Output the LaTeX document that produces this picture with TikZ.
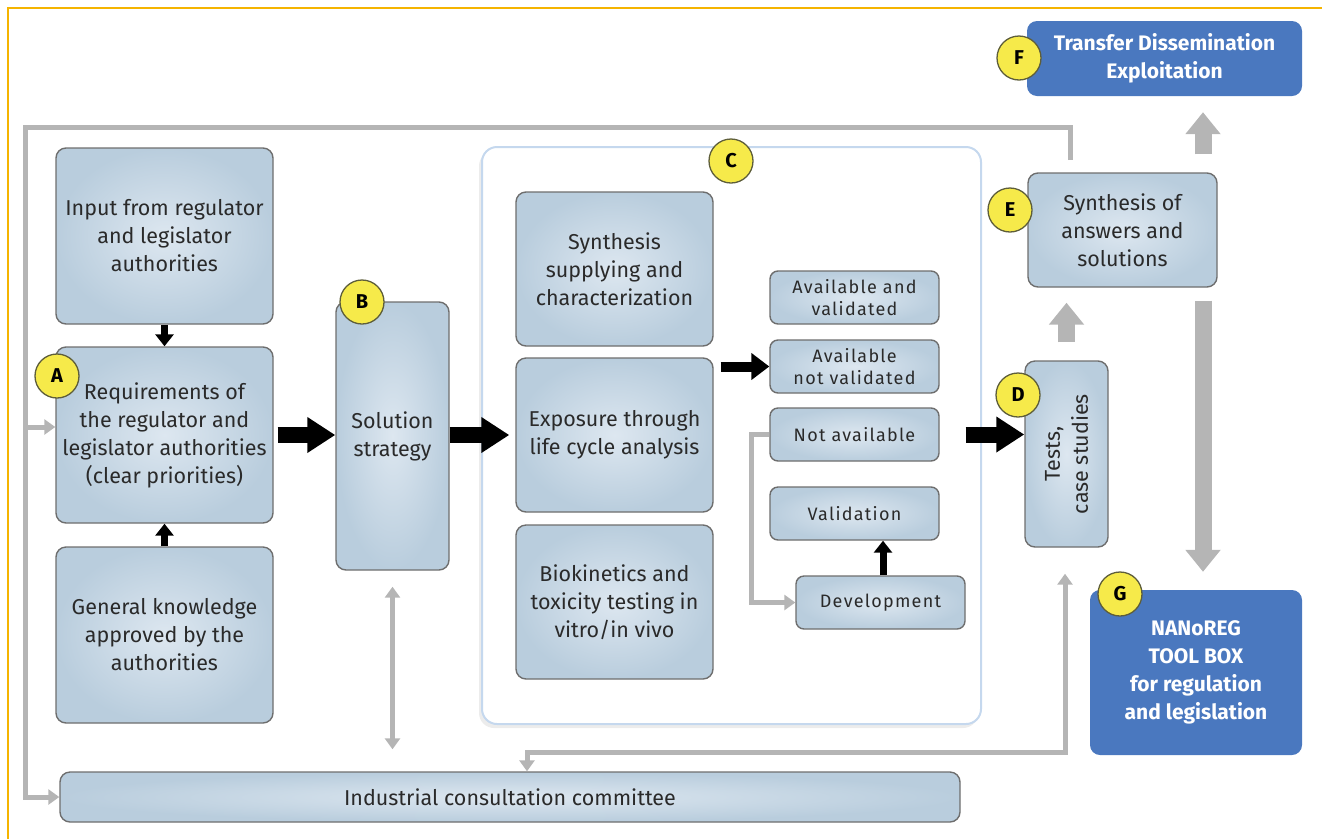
\documentclass[tikz,border=0pt]{standalone}
\usepackage{fontspec}
\setmainfont{Fira Sans}
\newfontfamily\spacedfont[LetterSpace=7]{Fira Sans}
\usetikzlibrary{arrows.meta,shadows}
\definecolor{boxin}{HTML}{DDE7F0}
\definecolor{boxout}{HTML}{B9CDDD}
\definecolor{boxline}{HTML}{6E6E6E}
\definecolor{nblue}{HTML}{4A78BF}
\definecolor{lblfill}{HTML}{F6EA4A}
\definecolor{lblline}{HTML}{5E5E3A}
\definecolor{gline}{HTML}{B5B5B5}
\definecolor{frame}{HTML}{F5B400}
\definecolor{cborder}{HTML}{C5D8EE}
\definecolor{txt}{HTML}{2A2A2A}
\begin{document}
\begin{tikzpicture}[x=1pt,y=-1pt,
  box/.style={draw=boxline, line width=1.4pt, rounded corners=10pt, inner color=boxin, outer color=boxout,
    align=center, font=\fontsize{21.5}{28}\selectfont, text=txt, inner sep=2pt},
  smallbox/.style={box, rounded corners=8pt, font=\spacedfont\fontsize{18}{22}\selectfont, minimum width=169pt, minimum height=53pt},
  bluebox/.style={fill=nblue, rounded corners=10pt, text=white, font=\bfseries\fontsize{21}{28}\selectfont, align=center, inner sep=2pt},
  lbl/.style={circle, draw=lblline, line width=1.3pt, fill=lblfill, minimum size=44pt, inner sep=0pt, text=black, font=\bfseries\fontsize{20}{20}\selectfont},
  blkbig/.style={line width=16pt, draw=black, -{Triangle[length=28pt,width=34pt]}},
  blksmall/.style={line width=7pt, draw=black, -{Triangle[length=12pt,width=18pt]}},
  gline/.style={line width=5pt, draw=gline},
  gtip/.style={-{Triangle[length=11pt,width=15pt]}},
  gblock/.style={line width=17pt, draw=gline, -{Triangle[length=22pt,width=34pt]}}
]
\useasboundingbox (0,0) rectangle (1322,839);
% frame lines
\draw[frame, line width=1.5pt] (8,839) -- (8,8) -- (1322,8);

% container C
\node[draw=cborder, line width=2pt, rounded corners=15pt, fill=white,
  drop shadow={shadow xshift=-3pt, shadow yshift=-4pt, opacity=0.15, fill=gray},
  minimum width=499pt, minimum height=577pt] (C) at (731.5,435.5) {};

% boxes
\node[box, minimum width=217pt, minimum height=176pt] (inp) at (164.5,236) {Input from regulator\\and legislator\\authorities};
\node[box, minimum width=217pt, minimum height=176pt] (A) at (164.5,435) {Requirements of\\the regulator and\\legislator authorities\\(clear priorities)};
\node[box, minimum width=217pt, minimum height=176pt] (gen) at (164.5,635) {General knowledge\\approved by the\\authorities};
\node[box, minimum width=113pt, minimum height=268pt] (B) at (392.5,436) {Solution\\strategy};
\node[box, minimum width=197pt, minimum height=154pt] (syn) at (614.5,269) {Synthesis\\supplying and\\characterization};
\node[box, minimum width=197pt, minimum height=154pt] (expo) at (614.5,435) {Exposure through\\life cycle analysis};
\node[box, minimum width=197pt, minimum height=154pt] (bio) at (614.5,602) {Biokinetics and\\toxicity testing in\\vitro/in vivo};
\node[smallbox] (avv) at (854.5,297.5) {Available and\\validated};
\node[smallbox] (anv) at (854.5,366.5) {Available\\not validated};
\node[smallbox] (na) at (854.5,434.5) {Not available};
\node[smallbox] (val) at (854.5,513.5) {Validation};
\node[smallbox] (dev) at (880.5,602.5) {Development};
\node[box, minimum width=83pt, minimum height=186pt] (D) at (1066.5,454) {};
\node[rotate=90, align=center, font=\fontsize{21.5}{28}\selectfont, text=txt] (Dtxt) at (D.center) {Tests,\\case studies};
\node[box, minimum width=189pt, minimum height=114pt] (E) at (1122.5,230) {Synthesis of\\answers and\\solutions};
\node[bluebox, minimum width=275pt, minimum height=75pt] (F) at (1164.5,58.5) {Transfer Dissemination\\Exploitation};
\node[bluebox, minimum width=212pt, minimum height=165pt] (G) at (1196,672.5) {NANoREG\\TOOL BOX\\for regulation\\and legislation};
\node[box, minimum width=900pt, minimum height=50pt] (comm) at (510,797) {Industrial consultation committee};

% black arrows
\draw[blksmall] (inp.south) -- (A.north);
\draw[blksmall] (gen.north) -- (A.south);
\draw[blkbig, shorten <=4pt] (A.east) -- (A.east -| B.west);
\draw[blkbig, shorten >=6pt] (B.east |- expo.west) -- (expo.west);
\draw[line width=10pt, -{Triangle[length=18pt,width=26pt]}, shorten <=7pt] (expo.east |- anv.west) -- (anv.west);
\draw[blkbig] ([xshift=26pt]na.east) -- (na.east -| D.west);
\draw[blksmall] ([xshift=2.5pt]dev.north) -- ([xshift=2.5pt]dev.north |- val.south);

% gray connectors
\draw[gline, gtip] (na.west) -- ++(-18,0) |- (dev.west);
\coordinate (eo) at (1070,160);
\coordinate (tl) at (25,127);
\draw[gline, gtip] (eo) |- (tl) |- (comm.west);
\draw[gline, gtip] ([yshift=8pt]tl |- A.west) -- ([yshift=8pt]A.west);
\draw[gline, {Triangle[length=11pt,width=15pt]}-{Triangle[length=11pt,width=15pt]}, shorten <=22pt, shorten >=16pt] (B.south |- comm.north) -- (B.south);
\coordinate (j1) at (1065,752);
\draw[gline, {Triangle[length=11pt,width=15pt]}-{Triangle[length=11pt,width=15pt]}, shorten >=26pt] ([xshift=17pt]comm.north) |- (j1) -- (j1 |- D.south);

% gray block arrows
\draw[gblock, shorten <=18pt, shorten >=15pt] (D.north) -- (D.north |- E.south);
\draw[gblock, shorten <=18pt, shorten >=16pt] ([xshift=80.5pt]E.north) -- ([xshift=80.5pt]E.north |- F.south);
\draw[gblock, shorten <=13pt, shorten >=18pt] ([xshift=80.5pt]E.south) -- ([xshift=80.5pt]E.south |- G.north);

% labels
\node[lbl] (la) at (57,376) {A};
\node[lbl] (lb) at (362,302) {B};
\node[lbl] (lc) at (731,161) {C};
\node[lbl] (ld) at (1018,395) {D};
\node[lbl] (le) at (1010,210) {E};
\node[lbl] (lf) at (1019,58) {F};
\node[lbl] (lg) at (1120,594) {G};
\end{tikzpicture}
\end{document}
